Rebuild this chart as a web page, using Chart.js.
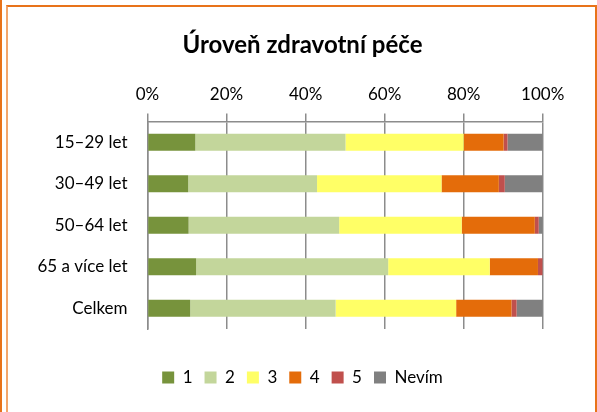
<!DOCTYPE html>
<html lang="cs">
<head>
<meta charset="utf-8">
<title>Úroveň zdravotní péče</title>
<script src="https://cdn.jsdelivr.net/npm/chart.js@4.4.1/dist/chart.umd.min.js"></script>
<style>
    html, body { margin: 0; padding: 0; background: #fff; }
    #obal { position: relative; width: 597px; height: 412px; overflow: hidden; }
    #graf { position: absolute; left: 0; top: 0; }
    /* oranžové rámečky z původního dokumentu */
    #linkaVlevo { position: absolute; left: 0; top: 0; width: 2px; height: 412px; background: #e8731a; }
    #ramecek { position: absolute; left: 6px; top: 5px; width: 587px; height: 420px;
               border: 2px solid #e8731a; border-left-color: #f2a66c; }
</style>
</head>
<body>
<div id="obal">
    <canvas id="graf" width="597" height="412"></canvas>
    <div id="linkaVlevo"></div>
    <div id="ramecek"></div>
</div>
<script>
// Data (podíly v %)
const kategorie = ['15–29 let', '30–49 let', '50–64 let', '65 a více let', 'Celkem'];
const odpovedi = ['1', '2', '3', '4', '5', 'Nevím'];
const hodnoty1 = [12.1, 10.3, 10.4, 12.3, 10.8];
const hodnoty2 = [38.0, 32.6, 38.1, 48.6, 36.8];
const hodnoty3 = [29.9, 31.5, 31.0, 25.7, 30.5];
const hodnoty4 = [10.1, 14.5, 18.5, 12.2, 14.0];
const hodnoty5 = [1.0, 1.5, 1.0, 1.2, 1.3];
const hodnotyNevim = [8.9, 9.6, 1.0, 0.0, 6.6];
const osaTicky = [0, 20, 40, 60, 80, 100];

const barvy = ['#77933c', '#c3d69b', '#ffff66', '#e46c0a', '#c0504d', '#808080'];
const serie = [hodnoty1, hodnoty2, hodnoty3, hodnoty4, hodnoty5, hodnotyNevim];

const pismo = 'Lato, "Open Sans", sans-serif';
const seda = '#8c8c8c';

// prázdná osa jen kvůli odsazení (nic nekreslí)
const prazdnaOsa = (pozice, osa, velikost) => ({
    position: pozice,
    axis: osa,
    type: 'linear',
    display: true,
    ticks: { display: false },
    grid: { display: false, drawTicks: false },
    border: { display: false },
    afterFit: (s) => {
        if (osa === 'x') s.height = velikost; else s.width = velikost;
    }
});

const ctx = document.getElementById('graf').getContext('2d');
new Chart(ctx, {
    type: 'bar',
    data: {
        labels: kategorie,
        datasets: serie.map((data, i) => ({
            label: odpovedi[i],
            data: data,
            backgroundColor: barvy[i],
            borderWidth: 0,
            categoryPercentage: 1,
            barPercentage: 0.41
        }))
    },
    options: {
        indexAxis: 'y',
        responsive: false,
        animation: false,
        layout: { padding: { left: 8, right: 0, top: 0, bottom: 16 } },
        plugins: {
            tooltip: { enabled: false },
            title: {
                display: true,
                text: 'Úroveň zdravotní péče',
                color: '#000',
                font: { family: pismo, size: 24, weight: 'bold' },
                padding: { top: 30.6, bottom: 8.8 }
            },
            legend: {
                position: 'bottom',
                labels: {
                    color: '#000',
                    font: { family: pismo, size: 17 },
                    boxWidth: 12,
                    boxHeight: 12,
                    padding: 12
                }
            }
        },
        scales: {
            x: {
                position: 'top',
                stacked: true,
                min: 0,
                max: 100,
                afterBuildTicks: (osa) => { osa.ticks = osaTicky.map(v => ({ value: v })); },
                ticks: {
                    color: '#000',
                    font: { family: pismo, size: 17 },
                    padding: 9,
                    callback: (v) => v + '%'
                },
                grid: { color: seda, lineWidth: 1.5, tickLength: 8 },
                border: { color: seda, width: 1.5 },
                afterFit: (osa) => { osa.height = 53.3; }
            },
            y: {
                stacked: true,
                ticks: {
                    color: '#000',
                    font: { family: pismo, size: 17 },
                    padding: 20
                },
                grid: { display: false, drawTicks: false },
                border: { color: seda, width: 1.5 },
                afterFit: (osa) => { osa.width = 139.5; }
            },
            mezeraDole: prazdnaOsa('bottom', 'x', 28),
            mezeraVpravo: prazdnaOsa('right', 'y', 54.3)
        }
    }
});
</script>
</body>
</html>
